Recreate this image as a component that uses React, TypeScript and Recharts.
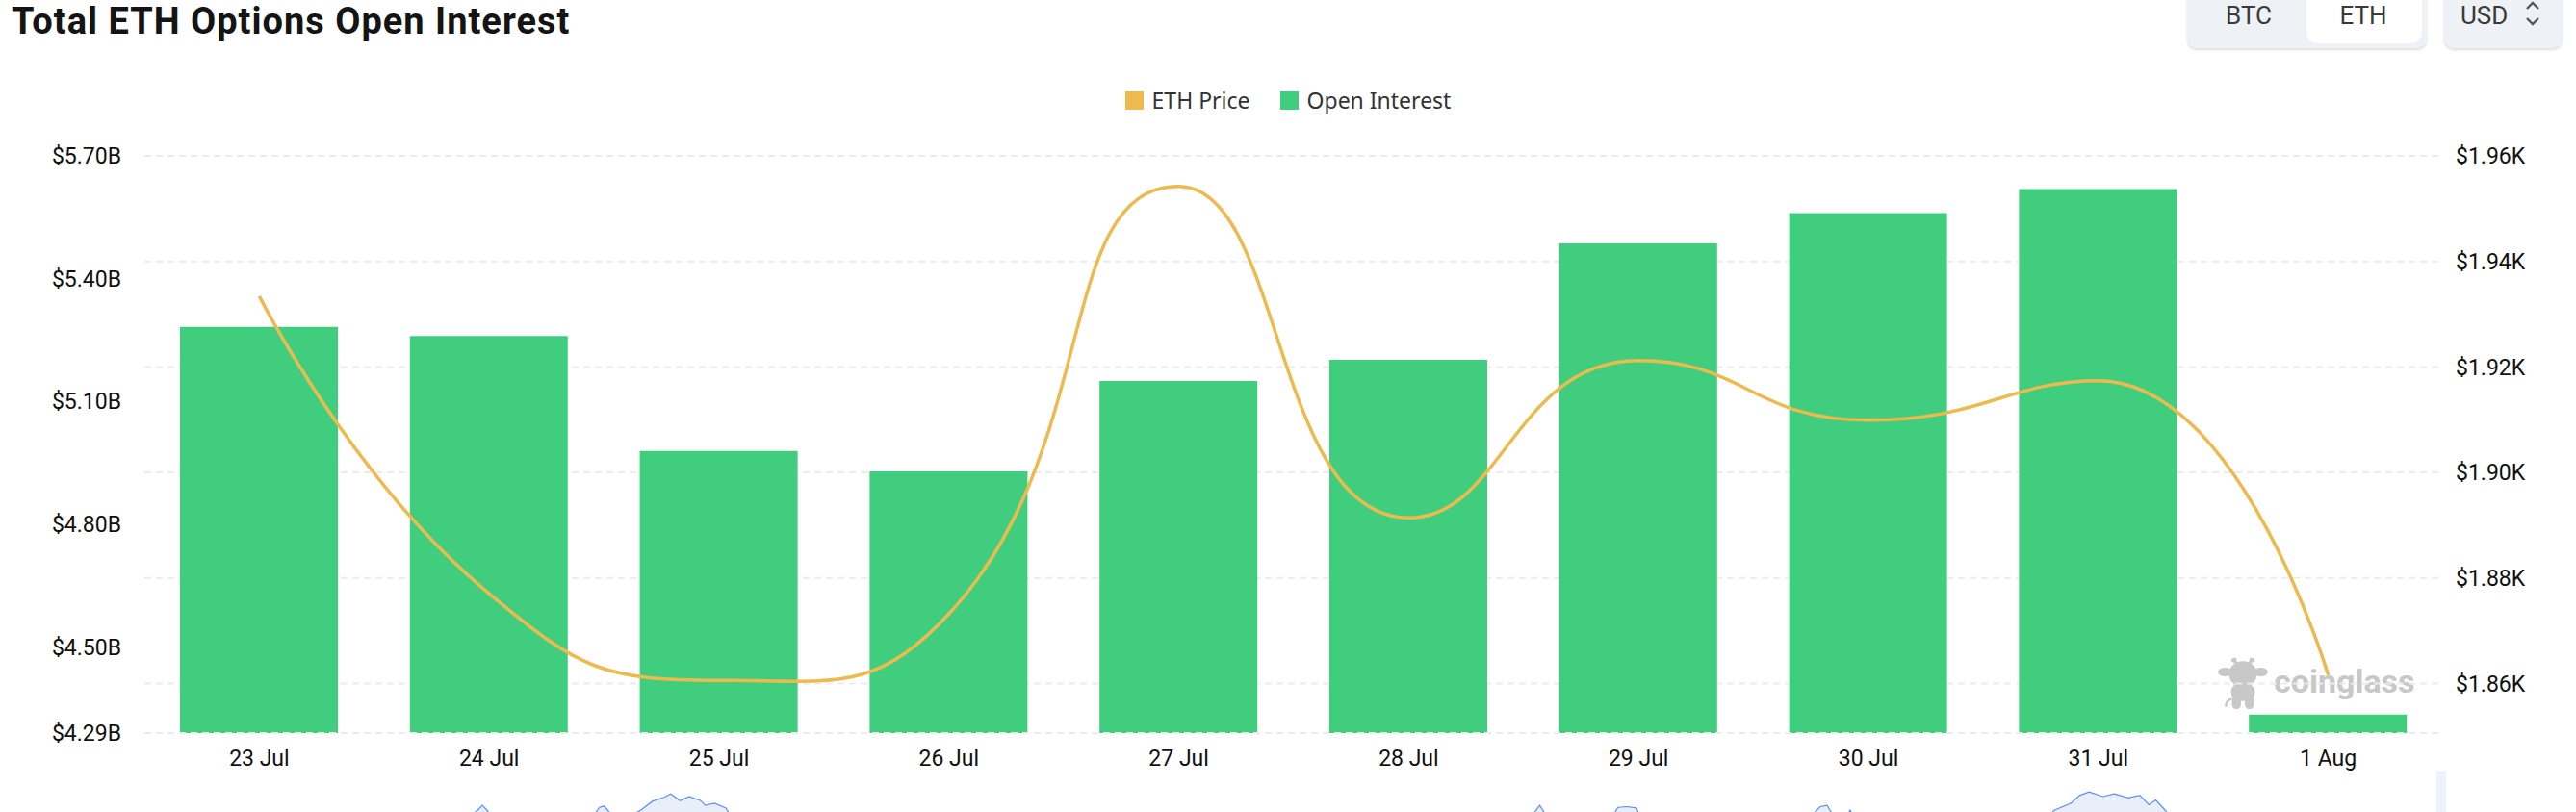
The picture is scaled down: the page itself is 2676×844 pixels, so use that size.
import { ComposedChart, Bar, Line, XAxis, YAxis, CartesianGrid, AreaChart, Area } from 'recharts'

// daily figures
const DATES = ['23 Jul', '24 Jul', '25 Jul', '26 Jul', '27 Jul', '28 Jul', '29 Jul', '30 Jul', '31 Jul', '1 Aug']
const OPEN_INTEREST = [5.282, 5.26, 4.979, 4.929, 5.15, 5.202, 5.486, 5.56, 5.619, 4.335] // $B
const ETH_PRICE = [1.9334, 1.877, 1.8606, 1.8732, 1.9542, 1.8914, 1.9212, 1.9099, 1.9174, 1.8616] // $K

const OI_TICKS = [4.29, 4.5, 4.8, 5.1, 5.4, 5.7]
const PRICE_TICKS = [1.86, 1.88, 1.9, 1.92, 1.94, 1.96]

// data zoom preview strip (mostly cut off at the bottom of the page)
const MINI_T = [0, 138, 145, 147, 149, 153, 193, 198, 200, 204, 211, 216, 221, 226, 229, 233, 237, 242, 244, 248, 253, 254, 260,
  601, 607, 612, 637, 641, 645, 649, 652, 722, 729, 732, 735, 739, 742, 745,
  825, 831, 838, 842, 846, 852, 857, 863, 868, 872, 875, 879, 884, 1000]
const MINI_V = [20, 20, 40, 47, 40, 20, 20, 44, 46, 30, 30, 40, 53, 59, 64, 54, 60, 54, 47, 50, 43, 37, 20,
  20, 47, 20, 20, 44, 45, 43, 20, 20, 45, 47, 30, 20, 40, 20,
  20, 40, 50, 62, 67, 60, 64, 58, 62, 48, 55, 40, 20, 20]

const GREEN = '#40ce7e'
const GOLD = '#ecba4f'
const GRID = '#ececec'

const chartData = DATES.map((d, i) => ({ date: d, oi: OPEN_INTEREST[i], price: ETH_PRICE[i] }))
const miniData = MINI_T.map((t, i) => ({ t, v: MINI_V[i] }))

const tickStyle = { fontFamily: 'Roboto, sans-serif', fontSize: 23, fill: '#111' }

// echarts-like smoothing (0.5), but flat tangents at local peaks/dips
function smoothCurve(ctx: any) {
  let xs: number[] = []
  let ys: number[] = []
  const s = 0.5
  return {
    areaStart() {},
    areaEnd() {},
    lineStart() {
      xs = []
      ys = []
    },
    point(x: number, y: number) {
      xs.push(+x)
      ys.push(+y)
    },
    lineEnd() {
      const n = xs.length
      if (!n) return
      ctx.moveTo(xs[0], ys[0])
      let cx0 = xs[0]
      let cy0 = ys[0]
      for (let i = 1; i < n; i++) {
        const x = xs[i], y = ys[i]
        const px = xs[i - 1], py = ys[i - 1]
        let vx = 0, vy = 0, ratio = 0.5, nx0 = x, ny0 = y
        if (i < n - 1) {
          const nx = xs[i + 1], ny = ys[i + 1]
          vx = nx - px
          vy = (y - py) * (ny - y) <= 0 ? 0 : ny - py
          const lp = Math.hypot(x - px, y - py)
          const ln = Math.hypot(nx - x, ny - y)
          ratio = ln / (ln + lp)
          nx0 = x + vx * s * ratio
          ny0 = y + vy * s * ratio
        }
        const cx1 = x - vx * s * (1 - ratio)
        const cy1 = y - vy * s * (1 - ratio)
        ctx.bezierCurveTo(cx0, cy0, cx1, cy1, x, y)
        cx0 = nx0
        cy0 = ny0
      }
    },
  }
}

function CowLogo() {
  return (
    <svg width={52} height={56} viewBox="0 0 50 54" style={{ position: 'absolute', left: 2304, top: 683 }}>
      <g fill="#c8c8c8">
        <ellipse cx="7" cy="15" rx="7" ry="4.5" />
        <ellipse cx="43" cy="15" rx="7" ry="4.5" />
        <path d="M13 4 Q14 0 18 1 L20 8 Z" />
        <path d="M37 4 Q36 0 32 1 L30 8 Z" />
        <ellipse cx="25" cy="17" rx="14" ry="13" />
        <rect x="13" y="26" width="24" height="18" rx="9" />
        <rect x="14" y="38" width="9" height="14" rx="4" />
        <rect x="27" y="38" width="9" height="14" rx="4" />
        <path d="M13 40 Q6 44 7 50 L9 50 Q9 45 14 43 Z" />
      </g>
    </svg>
  )
}

function Chevrons() {
  return (
    <svg width={16} height={28} viewBox="0 0 16 28" style={{ position: 'absolute', left: 2623, top: 0 }}>
      <path d="M2 9 L8 3 L14 9" fill="none" stroke="#555" strokeWidth={2.4} />
      <path d="M2 19 L8 25 L14 19" fill="none" stroke="#555" strokeWidth={2.4} />
    </svg>
  )
}

const btnText = { position: 'absolute' as const, top: 1, fontFamily: 'Roboto, sans-serif', fontSize: 26, lineHeight: '30px', color: '#3a3a3a' }

export default function App() {
  return (
    <div style={{ position: 'fixed', left: 0, top: 0, width: 2676, height: 844, overflow: 'hidden', background: '#fff' }}>
      {/* title */}
      <div style={{ position: 'absolute', left: 12, top: 0, fontFamily: 'Roboto, sans-serif', fontWeight: 700, fontSize: 38, lineHeight: '45px', letterSpacing: 1, color: '#141414', whiteSpace: 'nowrap' }}>
        Total ETH Options Open Interest
      </div>

      {/* BTC / ETH switch */}
      <div style={{ position: 'absolute', left: 2272, top: -24, width: 249, height: 74, background: '#eef1f5', borderRadius: 10, boxShadow: '0 2px 3px rgba(0,0,0,0.13)' }}>
        <div style={{ position: 'absolute', left: 124, top: 0, width: 120, height: 69, background: '#fff', borderRadius: 10 }} />
      </div>
      <div style={{ ...btnText, left: 2296, width: 80, textAlign: 'center' }}>BTC</div>
      <div style={{ ...btnText, left: 2415, width: 80, textAlign: 'center' }}>ETH</div>

      {/* currency */}
      <div style={{ position: 'absolute', left: 2539, top: -24, width: 123, height: 74, background: '#eef1f5', borderRadius: 10, boxShadow: '0 2px 3px rgba(0,0,0,0.13)' }} />
      <div style={{ ...btnText, left: 2556 }}>USD</div>
      <Chevrons />

      {/* legend */}
      <div style={{ position: 'absolute', left: 0, top: 90, width: 2676, display: 'flex', justifyContent: 'center', gap: 31, fontFamily: '"Noto Sans", sans-serif', fontSize: 23, lineHeight: '28px', color: '#333' }}>
        <div style={{ display: 'flex', alignItems: 'center', gap: 9 }}>
          <span style={{ width: 19, height: 19, background: GOLD, display: 'inline-block' }} />
          ETH Price
        </div>
        <div style={{ display: 'flex', alignItems: 'center', gap: 9 }}>
          <span style={{ width: 19, height: 19, background: GREEN, display: 'inline-block' }} />
          Open Interest
        </div>
      </div>

      {/* watermark */}
      <CowLogo />
      <div style={{ position: 'absolute', left: 2362, top: 689, fontFamily: 'Roboto, sans-serif', fontWeight: 700, fontSize: 34, lineHeight: '38px', color: '#c8c8c8' }}>coinglass</div>

      <div style={{ position: 'absolute', left: 0, top: 0 }}>
        <ComposedChart width={2676} height={844} data={chartData} margin={{ top: 162, right: 10, bottom: 22, left: 10 }}>
          <CartesianGrid yAxisId="right" vertical={false} stroke={GRID} strokeWidth={2} strokeDasharray="7 5" />
          <XAxis
            dataKey="date"
            height={60}
            tickLine={false}
            tickSize={0}
            tickMargin={18}
            interval={0}
            axisLine={{ stroke: GRID, strokeWidth: 2, strokeDasharray: '7 5' }}
            tick={tickStyle}
          />
          <YAxis
            yAxisId="left"
            orientation="left"
            width={140}
            domain={[4.29, 5.7]}
            ticks={OI_TICKS}
            interval={0}
            axisLine={false}
            tickLine={false}
            tickSize={0}
            tickMargin={24}
            tick={tickStyle}
            tickFormatter={(v: number) => `$${v.toFixed(2)}B`}
          />
          <YAxis
            yAxisId="right"
            orientation="right"
            width={128}
            domain={[1.8506, 1.96]}
            ticks={PRICE_TICKS}
            interval={0}
            axisLine={false}
            tickLine={false}
            tickSize={0}
            tickMargin={13}
            tick={tickStyle}
            tickFormatter={(v: number) => `$${v.toFixed(2)}K`}
          />
          <Bar yAxisId="left" dataKey="oi" name="Open Interest" fill={GREEN} barSize={164} isAnimationActive={false} />
          <Line yAxisId="right" dataKey="price" name="ETH Price" type={smoothCurve as any} stroke={GOLD} strokeWidth={3.5} dot={false} activeDot={false} isAnimationActive={false} />
        </ComposedChart>
      </div>

      {/* dataZoom preview */}
      <div style={{ position: 'absolute', left: 150, top: 800 }}>
        <AreaChart width={2388} height={70} data={miniData} margin={{ top: 0, right: 0, bottom: 0, left: 0 }}>
          <XAxis dataKey="t" type="number" domain={[0, 1000]} hide />
          <YAxis domain={[0, 100]} hide />
          <Area dataKey="v" type="linear" stroke="#5b8ff9" strokeWidth={1.2} fill="#e8effb" fillOpacity={1} isAnimationActive={false} />
        </AreaChart>
      </div>
      <div style={{ position: 'absolute', left: 2531, top: 801, width: 10, height: 60, background: '#eef2fb' }} />
    </div>
  )
}
